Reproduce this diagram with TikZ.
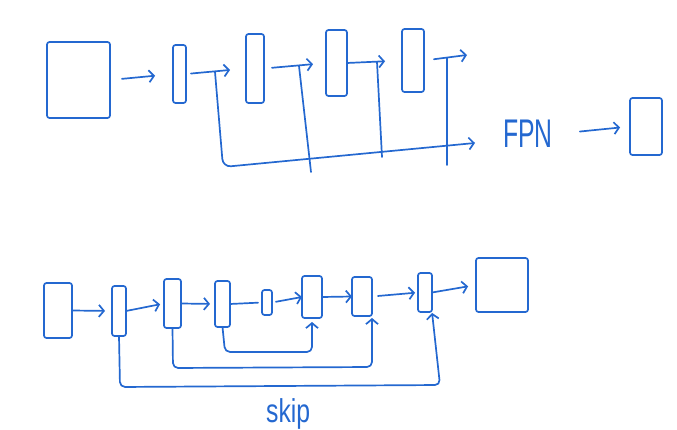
\documentclass[tikz,border=0pt]{standalone}
\usepackage{fontspec}
\setmainfont{Liberation Sans}
\usepackage{graphicx}
\usetikzlibrary{arrows.meta}
\definecolor{ink}{RGB}{36,104,208}
\begin{document}
\begin{tikzpicture}[x=1pt,y=-1pt,
  box/.style={draw=ink,line width=1.7pt,rounded corners=2.5pt,inner sep=0pt,outer sep=0pt},
  ln/.style={draw=ink,line width=1.7pt,line cap=round,line join=round},
  arr/.style={ln,-{Straight Barb[length=5pt,width=12pt]}},
  lbl/.style={text=ink,inner sep=0pt}]
\useasboundingbox (0,0) rectangle (677,430);

% ---- top row boxes
\node[box,minimum width=63pt,minimum height=76pt] (A) at (78.5,80) {};
\node[box,minimum width=13pt,minimum height=58pt] (B) at (179.5,74) {};
\node[box,minimum width=18pt,minimum height=69pt] (C) at (255,68.5) {};
\node[box,minimum width=21pt,minimum height=66pt] (D) at (336.5,63) {};
\node[box,minimum width=22pt,minimum height=63pt] (E) at (413,60.5) {};
\node[box,minimum width=32pt,minimum height=57pt] (F) at (646,126.5) {};
\node[lbl,anchor=base west] (fpn) at (503,148) {\scalebox{0.62}[1]{\fontsize{40}{40}\selectfont FPN}};

\coordinate (eOut) at (467,55);
\coordinate (t1) at (215,72);
\coordinate (t2) at (299,66);
\coordinate (t3) at (377,62);
\coordinate (t4) at (447,58);
\coordinate (hEnd) at (475,143);

% ---- top row connectors
\draw[arr,shorten <=12pt,shorten >=18pt] (A.east) -- (B.west);
\draw[arr,shorten <=5pt,shorten >=16pt] (B.east) -- (C.west);
\draw[arr,shorten <=8pt,shorten >=13pt] (C.east) -- (D.west);
\draw[arr,shorten >=17pt] (D.east) -- (E.west);
\draw[arr,shorten <=10pt] (E.east) -- (eOut);
\draw[arr,rounded corners=8pt] (t1) -- (223,167) -- (hEnd);
\draw[ln] (t2) -- (311,172);
\draw[ln] (t3) -- (382,157);
\draw[ln] (t4) -- (447,165);
\draw[arr,shorten <=27pt,shorten >=10pt] (fpn.east) -- (F.west);

% ---- bottom row boxes
\node[box,minimum width=28pt,minimum height=55pt] (G) at (58,310.5) {};
\node[box,minimum width=14pt,minimum height=50pt] (H) at (119,311) {};
\node[box,minimum width=17pt,minimum height=49pt] (I) at (172.5,303.5) {};
\node[box,minimum width=15pt,minimum height=46pt] (J) at (222.5,304) {};
\node[box,minimum width=10pt,minimum height=25pt] (K) at (267,302.5) {};
\node[box,minimum width=20pt,minimum height=42pt] (L) at (312,297) {};
\node[box,minimum width=20pt,minimum height=39pt] (M) at (362,296.5) {};
\node[box,minimum width=14pt,minimum height=39pt] (N) at (425,292.5) {};
\node[box,minimum width=52pt,minimum height=54pt] (O) at (502,285) {};
\node[lbl,anchor=base west] (skiplbl) at (266,422) {\scalebox{0.75}[1]{\fontsize{33}{33}\selectfont skip}};

% ---- bottom row connectors
\draw[arr,shorten >=7pt] (G.east) -- (H.west);
\draw[arr,shorten >=4pt] (H.east) -- (I.west);
\draw[arr,shorten >=5pt] (I.east) -- (J.west);
\draw[ln,shorten >=4pt] (J.east) -- (K.west);
\draw[arr,shorten <=4pt] (K.east) -- (L.west);
\draw[arr] (L.east) -- (M.west);
\draw[arr,shorten <=6pt,shorten >=3pt] (M.east) -- (N.west);
\draw[arr,shorten >=8pt] (N.east) -- (O.west);

% ---- skip connections
\draw[arr,rounded corners=5pt,shorten >=4pt] (J.south) -- (225,352) -- (312,352) -- (L.south);
\draw[arr,rounded corners=5pt,shorten >=2pt] (I.south) -- (173,368) -- (372,367) -- (M.south east);
\draw[arr,rounded corners=5pt,shorten >=1pt] (H.south) -- (120,387) -- (440,385) -- (N.south east);
\end{tikzpicture}
\end{document}
